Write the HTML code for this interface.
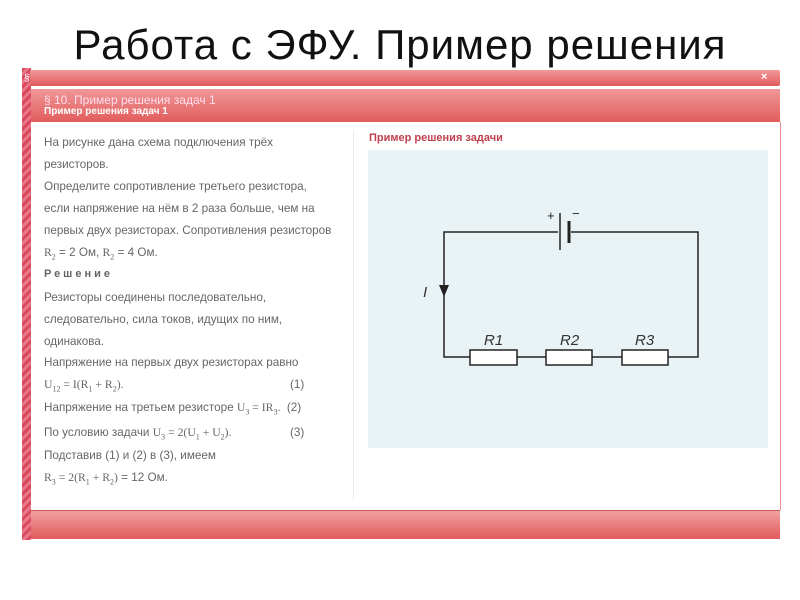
<!DOCTYPE html>
<html><head><meta charset="utf-8">
<style>
body{margin:0;width:800px;height:600px;background:#fff;position:relative;overflow:hidden;font-family:"Liberation Sans",sans-serif}
.a{position:absolute;white-space:nowrap}
.t{position:absolute;left:44px;font-size:11.7px;color:#666;white-space:nowrap}
sub{font-size:8px}
.m{font-family:"Liberation Serif",serif}
</style></head><body>
<div class="a" style="left:0;width:800px;top:21px;text-align:center;font-size:42px;color:#111;letter-spacing:1px">Работа с ЭФУ. Пример решения</div>
<div class="a" style="left:22px;top:68px;width:9px;height:472px;background:repeating-linear-gradient(135deg,#d94a5c 0 3px,#e8788a 3px 6px)"></div>
<div class="a" style="left:30px;top:70px;width:750px;height:16px;background:linear-gradient(#f19a9a,#e25a5c);border-radius:2px"></div>
<div class="a" style="left:24px;top:73px;font-size:10px;color:#fff">§</div>
<div class="a" style="left:761px;top:71px;font-size:11px;color:#fff;font-weight:bold">×</div>
<div class="a" style="left:31px;top:89px;width:749px;height:33px;background:linear-gradient(#f09898,#e25c5c)"></div>
<div class="a" style="left:44px;top:93px;font-size:12px;color:#fde">§ 10. Пример решения задач 1</div>
<div class="a" style="left:44px;top:106px;font-size:10px;color:#fff;font-weight:bold">Пример решения задач 1</div>
<div class="a" style="left:31px;top:122px;width:749px;height:388px;background:#fff;border-right:1px solid #e88"></div>
<div class="a" style="left:353px;top:130px;width:1px;height:370px;background:#eee"></div>
<div class="a" style="left:31px;top:510px;width:749px;height:28px;background:linear-gradient(#f2a0a0,#e25a5c);border-top:1px solid #c55"></div>

<div class="t" style="top:136px">На рисунке дана схема подключения трёх</div>
<div class="t" style="top:158px">резисторов.</div>
<div class="t" style="top:180px">Определите сопротивление третьего резистора,</div>
<div class="t" style="top:202px">если напряжение на нём в 2 раза больше, чем на</div>
<div class="t" style="top:224px">первых двух резисторах. Сопротивления резисторов</div>
<div class="t" style="top:246px"><span class="m">R<sub>2</sub></span> = 2 Ом, <span class="m">R<sub>2</sub></span> = 4 Ом.</div>
<div class="t" style="top:268px;font-weight:bold;letter-spacing:3px;font-size:11px">Решение</div>
<div class="t" style="top:291px">Резисторы соединены последовательно,</div>
<div class="t" style="top:313px">следовательно, сила токов, идущих по  ним,</div>
<div class="t" style="top:335px">одинакова.</div>
<div class="t" style="top:356px">Напряжение на первых двух резисторах равно</div>
<div class="t" style="top:378px"><span class="m">U<sub>12</sub> = I(R<sub>1</sub> + R<sub>2</sub>).</span></div>
<div class="t" style="top:378px;left:290px">(1)</div>
<div class="t" style="top:401px">Напряжение на третьем резисторе <span class="m">U<sub>3</sub> = IR<sub>3</sub>.</span>&nbsp;&nbsp;(2)</div>
<div class="t" style="top:426px">По условию задачи <span class="m">U<sub>3</sub> = 2(U<sub>1</sub> + U<sub>2</sub>).</span></div>
<div class="t" style="top:426px;left:290px">(3)</div>
<div class="t" style="top:449px">Подставив (1) и (2) в (3), имеем</div>
<div class="t" style="top:471px"><span class="m">R<sub>3</sub> = 2(R<sub>1</sub> + R<sub>2</sub>)</span> = 12 Ом.</div>

<div class="a" style="left:369px;top:132px;font-size:11px;font-weight:bold;color:#c04050">Пример решения задачи</div>
<div class="a" style="left:368px;top:150px;width:400px;height:298px;background:#e9f3f6"></div>
<svg class="a" style="left:0;top:0" width="800" height="600">
<g stroke="#222" stroke-width="1.5" fill="none">
<polyline points="558,232 444,232 444,357 470,357"/>
<polyline points="571,232 698,232 698,357 668,357"/>
<line x1="517" y1="357" x2="546" y2="357"/>
<line x1="592" y1="357" x2="622" y2="357"/>
<rect x="470" y="350" width="47" height="15" fill="#fff"/>
<rect x="546" y="350" width="46" height="15" fill="#fff"/>
<rect x="622" y="350" width="46" height="15" fill="#fff"/>
<line x1="560" y1="213" x2="560" y2="250"/>
<line x1="569" y1="221" x2="569" y2="243" stroke-width="3"/>
</g>
<polygon points="439,285 449,285 444,297" fill="#222"/>
<g font-family="Liberation Sans" font-size="15" font-style="italic" fill="#333">
<text x="423" y="297">I</text>
<text x="484" y="345">R1</text>
<text x="560" y="345">R2</text>
<text x="635" y="345">R3</text>
</g>
<text x="547" y="220" font-size="13" fill="#222" font-family="Liberation Sans">+</text>
<text x="572" y="218" font-size="13" fill="#222" font-family="Liberation Sans">−</text>
</svg>
</body></html>
